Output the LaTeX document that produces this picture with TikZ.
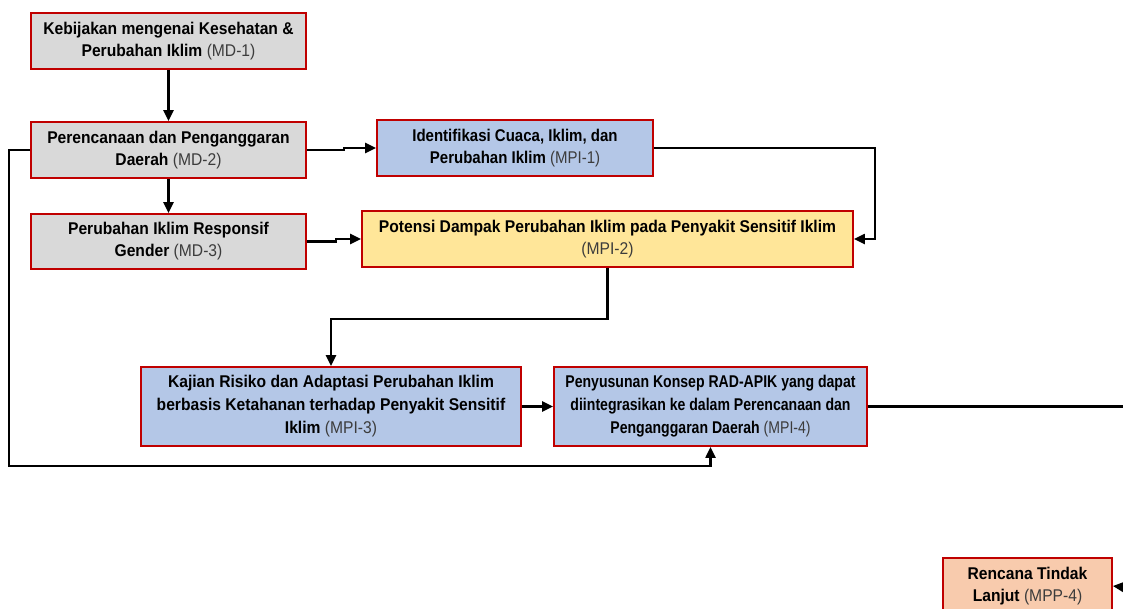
\documentclass[tikz,border=0pt]{standalone}
\usepackage{fontspec}
\setmainfont{Liberation Sans}[FakeStretch=0.92]
\usetikzlibrary{arrows.meta, positioning}

\definecolor{garismerah}{HTML}{C00000}
\definecolor{abu}{HTML}{D9D9D9}
\definecolor{biru}{HTML}{B4C7E7}
\definecolor{kuning}{HTML}{FFE699}
\definecolor{oranye}{HTML}{F8CBAD}
\definecolor{kodeabu}{HTML}{3C3C3C}
\newcommand{\kode}[1]{{\mdseries\color{kodeabu}(#1)}}
\newcommand{\sempit}[2][0.9]{\scalebox{#1}[1]{#2}}

\begin{document}
\begin{tikzpicture}[x=1pt, y=-1pt,
  font=\bfseries\fontsize{17}{22}\selectfont]
\useasboundingbox (0,0) rectangle (1123,608);

\tikzset{kotak/.style={draw=garismerah, line width=1.8pt, align=center, inner sep=2pt}}
\tikzset{panah/.style={-{Triangle[length=11pt,width=10pt]}, line width=2.2pt}}

\node[kotak, fill=abu, minimum width=275, minimum height=56] (md_1) at (168.5,41)
  {Kebijakan mengenai Kesehatan \&\\ Perubahan Iklim \kode{MD-1}};
\node[kotak, fill=abu, minimum width=275, minimum height=56] (md_2) at (168.5,150)
  {Perencanaan dan Penganggaran\\ Daerah \kode{MD-2}};
\node[kotak, fill=abu, minimum width=275, minimum height=55] (md_3) at (168.5,241.5)
  {Perubahan Iklim Responsif\\ Gender \kode{MD-3}};
\node[kotak, fill=biru, minimum width=276, minimum height=56] (mpi_1) at (515,148)
  {\sempit[0.96]{Identifikasi Cuaca, Iklim, dan}\\ \sempit[0.96]{Perubahan Iklim \kode{MPI-1}}};
\node[kotak, fill=kuning, minimum width=491, minimum height=56] (mpi_2) at (607.5,239)
  {Potensi Dampak Perubahan Iklim pada Penyakit Sensitif Iklim\\ \kode{MPI-2}};
\node[kotak, fill=biru, minimum width=380, minimum height=79] (mpi_3) at (331,406.5)
  {Kajian Risiko dan Adaptasi Perubahan Iklim\\[1pt] berbasis Ketahanan terhadap Penyakit Sensitif\\[1pt] Iklim \kode{MPI-3}};
\node[kotak, fill=biru, minimum width=313, minimum height=79] (mpi_4) at (710.5,406.5)
  {\sempit{Penyusunan Konsep RAD-APIK yang dapat}\\[1pt]
   \sempit{diintegrasikan ke dalam Perencanaan dan}\\[1pt]
   \sempit{Penganggaran Daerah \kode{MPI-4}}};
\node[kotak, fill=oranye, minimum width=169, minimum height=56] (mpp_4) at (1027.5,586)
  {Rencana Tindak\\ Lanjut \kode{MPP-4}};

\coordinate (keluar) at (1123,406.5);
\coordinate (masuk) at (1123,587);

\draw[panah] (md_1) -- (md_2);
\draw[panah] (md_2) -- (md_3);
\draw[panah] (md_2.east) -- ++(37,0) |- (mpi_1.west);
\draw[panah] (md_3.east) -- ++(29,0) |- (mpi_2.west);
\draw[panah] (mpi_1.east) -- ++(221,0) |- (mpi_2.east);
\draw[panah] (mpi_2.south) -- ++(0,51) -| (mpi_3.north);
\draw[panah] (mpi_3.east) -- (mpi_4.west);
\draw[panah] (md_2.west) -- ++(-21,0) -- ++(0,316) -| (mpi_4.south);
\draw[line width=2.2pt] (mpi_4.east) -- (keluar);
\draw[panah] (masuk) -- (mpp_4.east);

\end{tikzpicture}
\end{document}
